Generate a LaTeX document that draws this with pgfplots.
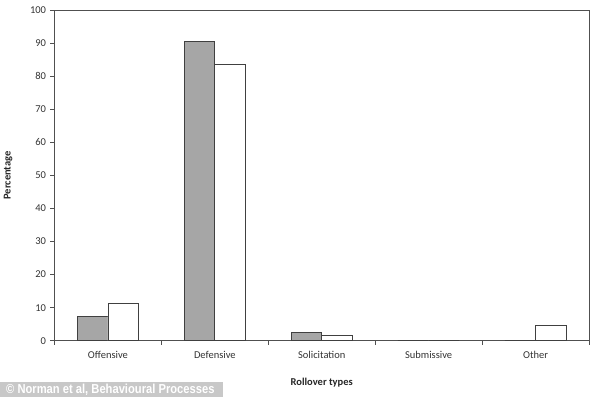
\documentclass[border=0pt]{standalone}
\usepackage{fontspec}
\setmainfont{Carlito}
\newfontfamily\wmfont{Liberation Sans}
\usepackage{pgfplots}
\pgfplotsset{compat=1.18}
\definecolor{bargrey}{HTML}{A6A6A6}
\definecolor{edge}{HTML}{404040}
\definecolor{axgrey}{HTML}{505050}
\definecolor{wmbox}{HTML}{C8C8C8}
\begin{document}
\begin{tikzpicture}
\path[use as bounding box] (-54.5bp,-56.3bp) rectangle (545.5bp,340.7bp);
\begin{axis}[
  at={(0,0)}, anchor=south west,
  scale only axis, width=534.5bp, height=330.7bp,
  ybar=0pt, bar width=30.7bp,
  xmin=-0.5, xmax=4.5, ymin=0, ymax=100,
  xtick={0,1,2,3,4},
  xticklabels={Offensive,Defensive,Solicitation,Submissive,Other},
  major x tick style={draw=none},
  extra x ticks={-0.5,0.5,1.5,2.5,3.5,4.5},
  extra x tick labels={},
  extra x tick style={major tick length=4bp, tick align=outside, tick pos=bottom, major x tick style={draw=axgrey}},
  ytick={0,10,...,100},
  ytick pos=left, tick align=outside, major tick length=4bp,
  axis line style={axgrey, line width=0.8pt},
  tick style={axgrey, line width=0.8pt},
  /pgf/number format/assume math mode=true,
  ticklabel style={font=\fontsize{10.5bp}{12bp}\selectfont, text=black!80},
  xticklabel style={yshift=-3bp},
  yticklabel style={xshift=-1bp},
  xlabel={\textbf{Rollover types}},
  ylabel={\textbf{Percentage}},
  label style={font=\fontsize{10.5bp}{12bp}\selectfont, text=black!85},
  xlabel style={at={(axis description cs:0.5,0)}, anchor=center, yshift=-42bp},
  ylabel style={at={(axis description cs:0,0.5)}, anchor=center, rotate=0, yshift=46.5bp},
  clip=false,
]
\addplot[fill=bargrey, draw=edge, line width=0.9pt] coordinates {(0,7.2) (1,90.6) (2,2.4) (3,0) (4,0)};
\addplot[fill=white, draw=edge, line width=0.9pt] coordinates {(0,11.3) (1,83.6) (2,1.5) (3,0) (4,4.5)};
\end{axis}
\fill[wmbox] (-54.5bp,-56.3bp) rectangle (168.2bp,-41.6bp);
\node[anchor=west, text=white, font=\wmfont\bfseries\fontsize{13bp}{14bp}\selectfont, inner sep=0pt, xscale=0.86] at (-48.5bp,-48.8bp) {© Norman et al, Behavioural Processes};
\end{tikzpicture}
\end{document}
